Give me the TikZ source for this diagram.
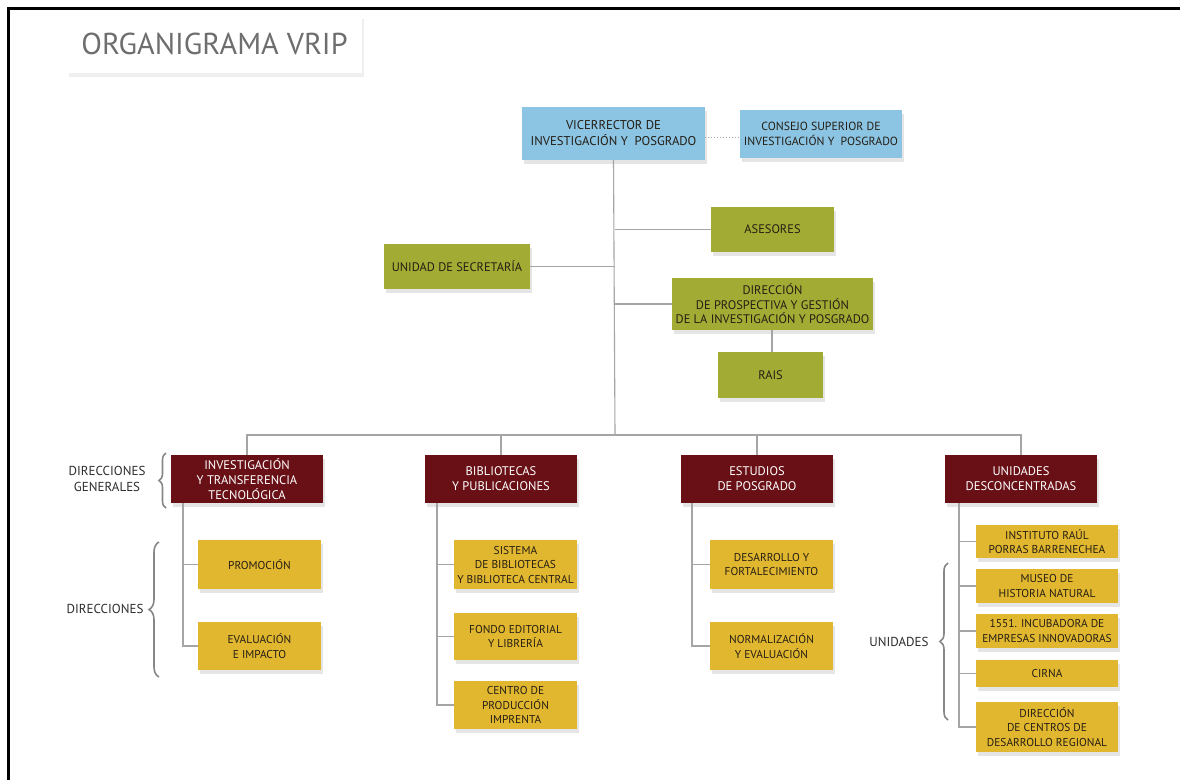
\documentclass[tikz,border=0pt]{standalone}
\usepackage{fontspec}
\setmainfont{PT Sans}
\usetikzlibrary{shadows,decorations.pathreplacing}
\definecolor{vblue}{RGB}{140,196,228}
\definecolor{vgreen}{RGB}{162,172,52}
\definecolor{vred}{RGB}{104,16,22}
\definecolor{vyel}{RGB}{226,183,48}
\definecolor{vtxt}{RGB}{36,30,20}
\definecolor{vline}{RGB}{165,165,165}
\definecolor{vbrace}{RGB}{135,135,135}
\definecolor{vtitle}{RGB}{110,110,110}
\definecolor{vlbl}{RGB}{45,45,45}
\begin{document}
\begin{tikzpicture}[x=1pt,y=-1pt,
  box/.style={inner sep=0pt, align=center, drop shadow={opacity=0.2, shadow xshift=1.5pt, shadow yshift=-3.5pt}},
  bluebox/.style={box, fill=vblue, text=vtxt, font=\fontsize{12.7}{16}\selectfont},
  greenbox/.style={box, fill=vgreen, text=vtxt, font=\fontsize{12.4}{14.5}\selectfont},
  redbox/.style={box, fill=vred, text=white, font=\fontsize{12.5}{15}\selectfont, minimum width=152pt, minimum height=48pt},
  yelbox/.style={box, fill=vyel, text=vtxt, font=\fontsize{11.4}{14.5}\selectfont},
  conn/.style={draw=vline, line width=1.1pt},
  brc/.style={draw=vbrace, line width=1.6pt, decorate},
  lbl/.style={text=vlbl, align=center, font=\fontsize{13}{15.5}\selectfont, inner sep=0pt}
]
\useasboundingbox (0,0) rectangle (1180,780);
\fill[white] (0,0) rectangle (1180,780);
\draw[line width=2.5pt] (8.7,780) -- (8.7,8.7) -- (1180,8.7);

% title
\node[inner sep=0pt, fill=white, drop shadow={opacity=0.12, shadow xshift=1.5pt, shadow yshift=-3.5pt}, minimum width=295pt, minimum height=58pt, text=vtitle, font=\fontsize{30.2}{34}\selectfont] (title) at (214.5,44) {ORGANIGRAMA VRIP};

% top
\node[bluebox, minimum width=183pt, minimum height=53pt] (vic) at (613.5,133.5) {VICERRECTOR DE\\INVESTIGACIÓN Y~ POSGRADO};
\node[bluebox, minimum width=162pt, minimum height=48pt, font=\fontsize{11.8}{15}\selectfont] (con) at (821,134) {CONSEJO SUPERIOR DE\\INVESTIGACIÓN Y~ POSGRADO};

% green
\node[greenbox, minimum width=123pt, minimum height=45pt] (ase) at (772.5,229.5) {ASESORES};
\node[greenbox, minimum width=146pt, minimum height=45pt] (sec) at (457,266.5) {UNIDAD DE SECRETARÍA};
\node[greenbox, minimum width=201pt, minimum height=52pt] (dir) at (772.5,304) {DIRECCIÓN\\DE PROSPECTIVA Y GESTIÓN\\DE LA INVESTIGACIÓN Y POSGRADO};
\node[greenbox, minimum width=105pt, minimum height=46pt] (rais) at (770.5,375) {RAIS};

% red
\node[redbox] (r1) at (247,479) {INVESTIGACIÓN\\Y TRANSFERENCIA\\TECNOLÓGICA};
\node[redbox] (r2) at (501,479) {BIBLIOTECAS\\Y PUBLICACIONES};
\node[redbox] (r3) at (757,479) {ESTUDIOS\\DE POSGRADO};
\node[redbox] (r4) at (1021,479) {UNIDADES\\DESCONCENTRADAS};

% yellow col 1
\node[yelbox, minimum width=123pt, minimum height=49pt] (y11) at (259.5,564.5) {PROMOCIÓN};
\node[yelbox, minimum width=123pt, minimum height=48pt] (y12) at (259.5,646) {EVALUACIÓN\\E IMPACTO};
% col 2
\node[yelbox, minimum width=123pt, minimum height=49pt] (y21) at (515.5,564.5) {SISTEMA\\DE BIBLIOTECAS\\Y BIBLIOTECA CENTRAL};
\node[yelbox, minimum width=123pt, minimum height=47pt] (y22) at (515.5,636.5) {FONDO EDITORIAL\\Y LIBRERÍA};
\node[yelbox, minimum width=123pt, minimum height=48pt] (y23) at (515.5,705) {CENTRO DE\\PRODUCCIÓN\\IMPRENTA};
% col 3
\node[yelbox, minimum width=123pt, minimum height=49pt] (y31) at (771.5,564.5) {DESARROLLO Y\\FORTALECIMIENTO};
\node[yelbox, minimum width=123pt, minimum height=48pt] (y32) at (771.5,646) {NORMALIZACIÓN\\Y EVALUACIÓN};
% col 4
\node[yelbox, minimum width=142pt, minimum height=33pt] (y41) at (1047,541.5) {INSTITUTO RAÚL\\PORRAS BARRENECHEA};
\node[yelbox, minimum width=142pt, minimum height=34pt] (y42) at (1047,586) {MUSEO DE\\HISTORIA NATURAL};
\node[yelbox, minimum width=142pt, minimum height=34pt] (y43) at (1047,631) {1551. INCUBADORA DE\\EMPRESAS INNOVADORAS};
\node[yelbox, minimum width=142pt, minimum height=27pt] (y44) at (1047,673.5) {CIRNA};
\node[yelbox, minimum width=142pt, minimum height=50pt] (y45) at (1047,727) {DIRECCIÓN\\DE CENTROS DE\\DESARROLLO REGIONAL};

% coordinates
\coordinate (bus) at (615,435);
\coordinate (c1) at (183,503);
\coordinate (c2) at (437,503);
\coordinate (c3) at (692,503);
\coordinate (c4) at (959,503);

% connectors
\draw[draw=vline, line width=1pt, dotted] ([yshift=-3.5pt]vic.east) -- ([yshift=-3.5pt]vic.east -| con.west);
\draw[conn] (vic.south) -- (bus);
\draw[conn] (bus |- ase.west) -- (ase.west);
\draw[conn] (sec.east) -- (bus |- sec.east);
\draw[conn] (bus |- dir.west) -- (dir.west);
\draw[conn] ([xshift=1.5pt]dir.south -| rais.north) -- ([xshift=1.5pt]rais.north);
\draw[conn] (r1.north) |- (bus) -| (r4.north);
\draw[conn] (r2.north) -- (r2.north |- bus);
\draw[conn] (r3.north) -- (r3.north |- bus);

\draw[conn] (c1) |- (y11.west);
\draw[conn] (c1) |- (y12.west);
\draw[conn] (c2) |- (y21.west);
\draw[conn] (c2) |- (y22.west);
\draw[conn] (c2) |- (y23.west);
\draw[conn] (c3) |- (y31.west);
\draw[conn] (c3) |- (y32.west);
\draw[conn] (c4) |- (y41.west);
\draw[conn] (c4) |- (y42.west);
\draw[conn] (c4) |- (y43.west);
\draw[conn] (c4) |- (y44.west);
\draw[conn] (c4) |- (y45.west);

% braces and labels
\draw[brc, decoration={brace, amplitude=7pt}] (166,508) -- (166,453);
\draw[brc, decoration={brace, amplitude=10pt}] (159,677) -- (159,542);
\draw[brc, decoration={brace, amplitude=8pt}] (948,720) -- (948,563);
\node[lbl] (lg) at (107,479) {DIRECCIONES\\GENERALES};
\node[lbl] (ld) at (105,609) {DIRECCIONES};
\node[lbl] (lu) at (899,642) {UNIDADES};
\end{tikzpicture}
\end{document}
